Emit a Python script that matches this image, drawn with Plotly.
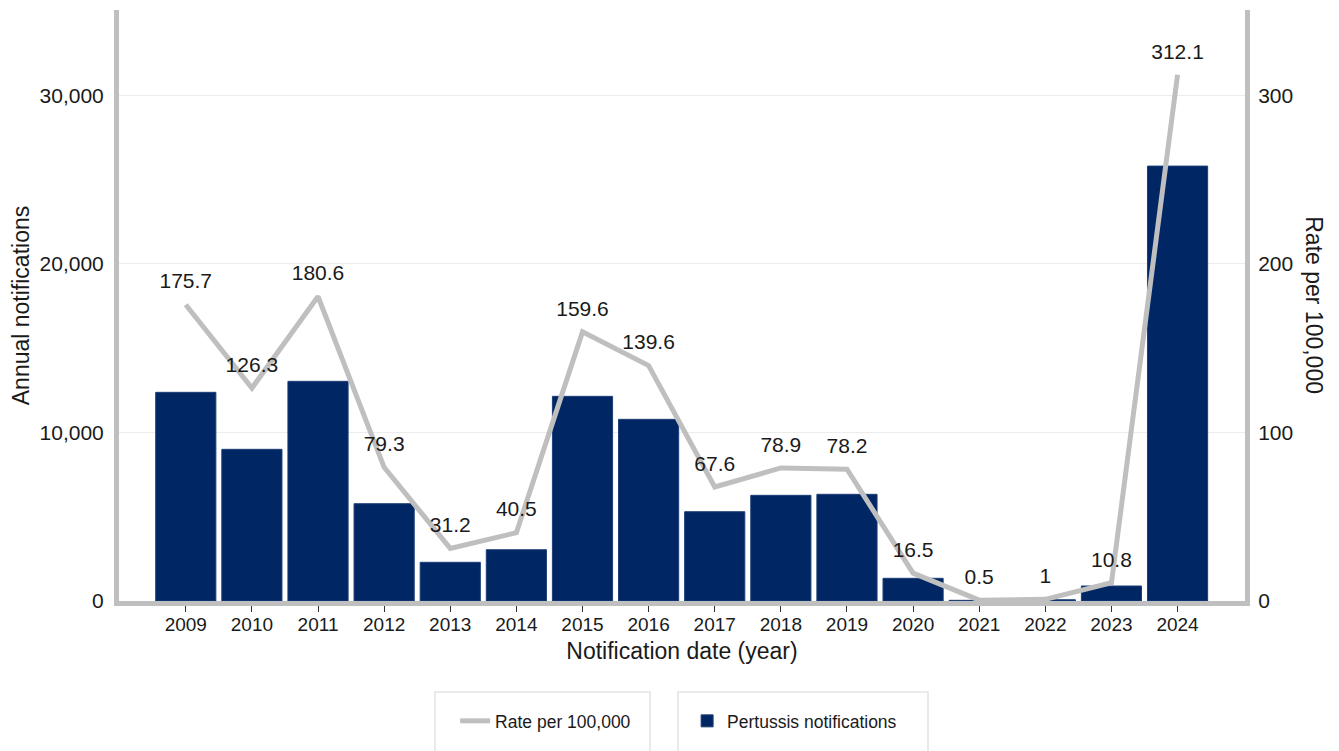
import plotly.graph_objects as go

years = ["2009", "2010", "2011", "2012", "2013", "2014", "2015", "2016",
         "2017", "2018", "2019", "2020", "2021", "2022", "2023", "2024"]
notifications = [12375, 8995, 13027, 5770, 2295, 3042, 12138, 10774,
                 5295, 6267, 6327, 1346, 40, 75, 889, 25793]
rate = [175.7, 126.3, 180.6, 79.3, 31.2, 40.5, 159.6, 139.6,
        67.6, 78.9, 78.2, 16.5, 0.5, 1, 10.8, 312.1]
rate_labels = [f"{r:g}" for r in rate]

NAVY = "#002664"
GREY = "#bfbfbf"
FONT = "Liberation Sans, Arial, sans-serif"

fig = go.Figure()

fig.add_trace(go.Bar(x=years, y=notifications, name="Pertussis notifications",
                     marker=dict(color=NAVY, line=dict(color="#1d3f78", width=1))))

fig.add_trace(go.Scatter(x=years, y=rate, name="Rate per 100,000", yaxis="y2",
                         mode="lines+markers+text", text=rate_labels,
                         textposition="top center",
                         textfont=dict(size=21, color="#1a1a1a", family=FONT),
                         marker=dict(size=16, color="rgba(0,0,0,0)"),
                         line=dict(color=GREY, width=5)))

# legend boxes
fig.add_shape(type="rect", xref="paper", yref="paper", x0=0.2806, x1=0.4716,
              y0=-0.154, y1=-0.30, line=dict(color="#e3e3e3", width=1.5))
fig.add_shape(type="rect", xref="paper", yref="paper", x0=0.4964, x1=0.7185,
              y0=-0.154, y1=-0.30, line=dict(color="#e3e3e3", width=1.5))

# right axis title, reads top to bottom
fig.add_annotation(text="Rate per 100,000", xref="paper", yref="paper",
                   x=1.0615, y=0.5, xanchor="center", yanchor="middle",
                   textangle=90, showarrow=False,
                   font=dict(size=23, family=FONT, color="#1a1a1a"))

fig.update_layout(
    width=1331, height=743,
    paper_bgcolor="white", plot_bgcolor="white",
    margin=dict(l=111, r=94, t=2, b=150, autoexpand=False),
    font=dict(family=FONT, color="#1a1a1a"),
    bargap=0.09,
    showlegend=True,
    legend=dict(orientation="h", x=0.2985, y=-0.203, xanchor="left", yanchor="middle",
                bgcolor="rgba(0,0,0,0)", borderwidth=0, traceorder="reversed",
                entrywidth=187, font=dict(size=17.5, family=FONT)),
    xaxis=dict(
        type="category", range=[-1.01, 16.02], showline=True, linecolor=GREY,
        linewidth=5, ticks="outside", ticklen=6, tickcolor="#333333", tickwidth=1,
        tickfont=dict(size=19), showgrid=False, automargin=False, zeroline=False,
        ticklabelstandoff=-4,
        title=dict(text="Notification date (year)", font=dict(size=23), standoff=11),
    ),
    yaxis=dict(
        range=[0, 35050], showline=True, linecolor=GREY, linewidth=5,
        tickvals=[0, 10000, 20000, 30000], tickformat=",",
        tickfont=dict(size=21), ticks="", automargin=False, ticklabelstandoff=6,
        gridcolor="#ececec", gridwidth=1, zeroline=False,
        title=dict(text="Annual notifications", font=dict(size=23)),
    ),
    yaxis2=dict(
        range=[0, 350.5], overlaying="y", side="right", showline=True,
        linecolor=GREY, linewidth=5, tickvals=[0, 100, 200, 300],
        tickfont=dict(size=21), ticks="", showgrid=False, zeroline=False,
        automargin=False, ticklabelstandoff=4,
    ),
)

fig.write_html("out.html")
